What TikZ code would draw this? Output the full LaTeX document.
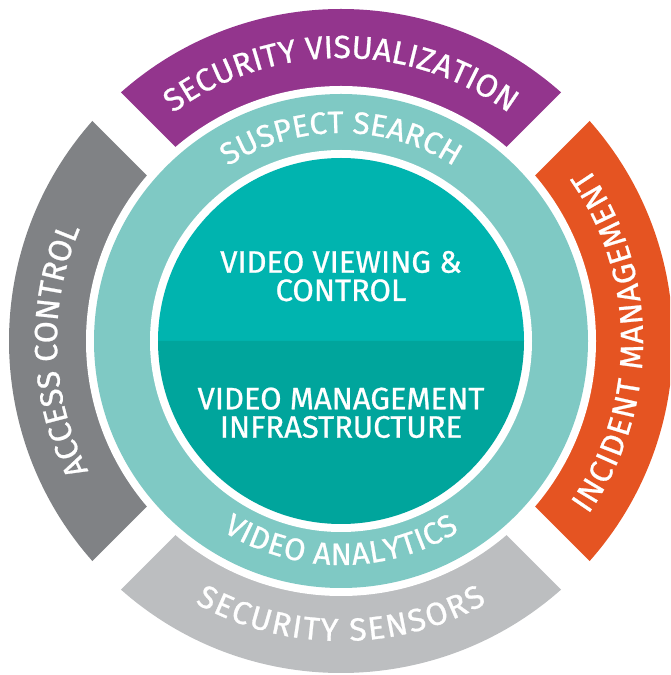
\documentclass[tikz,border=0pt]{standalone}
\usepackage{fontspec}
\setmainfont{Fira Sans}[FakeBold=0.8]
\newfontfamily\fsA{Fira Sans}[FakeBold=0.8]
\usetikzlibrary{decorations.text}
\definecolor{cpurple}{HTML}{93358D}
\definecolor{cgrayd}{HTML}{808285}
\definecolor{cgrayl}{HTML}{BCBEC0}
\definecolor{corange}{HTML}{E55422}
\definecolor{cring}{HTML}{7FC9C4}
\definecolor{ctop}{HTML}{00B4AF}
\definecolor{cbot}{HTML}{00A59C}
\tikzset{
  arctext/.style n args={3}{decorate, decoration={text effects along path,
     text={#3}, text align=center, text effects/.cd, text along path,
     characters={text=white, font=\fsA\fontsize{#1}{#1}\selectfont},
     character widths={inner xsep=#2, font=\fsA\fontsize{#1}{#1}\selectfont}}},
  innertext/.style={text=white, inner sep=0pt, anchor=base,
     font=\fsA\fontsize{31}{31}\selectfont}
}
\begin{document}
\begin{tikzpicture}[x=1pt,y=1pt]
\useasboundingbox (0,0) rectangle (670,675);
\clip (0,0) rectangle (670,675);
\begin{scope}[shift={(341,334)}]
\coordinate (C) at (0,0);
% outer bands
\fill[cpurple] (C) -- (45:332) arc[start angle=45,end angle=135,radius=332] -- cycle;
\fill[cgrayd] (C) -- (135:332) arc[start angle=135,end angle=225,radius=332] -- cycle;
\fill[cgrayl] (C) -- (225:332) arc[start angle=225,end angle=315,radius=332] -- cycle;
\fill[corange] (C) -- (-45:332) arc[start angle=-45,end angle=45,radius=332] -- cycle;
% gaps
\draw[white, line width=40] (45:345) -- (225:345);
\draw[white, line width=40] (135:345) -- (315:345);
\fill[white] (C) circle[radius=255];
\fill[cring] (C) circle[radius=247];
\fill[white] (C) circle[radius=191];
\fill[ctop] (0:183) arc[start angle=0,end angle=180,radius=183] -- cycle;
\fill[cbot] (180:183) arc[start angle=180,end angle=360,radius=183] -- cycle;
% arc texts
\path[arctext={32}{0pt}{SECURITY VISUALIZATION}] (180:283) arc[start angle=180,end angle=0,radius=283];
\path[arctext={31}{0pt}{SUSPECT SEARCH}] (180:208) arc[start angle=180,end angle=0,radius=208];
\path[arctext={32}{0pt}{ACCESS CONTROL}] (272:284) arc[start angle=272,end angle=92,radius=284];
\path[arctext={32}{0.7pt}{INCIDENT MANAGEMENT}] (-90:302) arc[start angle=-90,end angle=90,radius=302];
\path[arctext={32}{0.9pt}{SECURITY SENSORS}] (180:300) arc[start angle=180,end angle=360,radius=300];
\path[arctext={31}{0.3pt}{VIDEO ANALYTICS}] (180:224) arc[start angle=180,end angle=360,radius=224];
% inner texts
\node[innertext] (l1) at (0,68.3) {VIDEO VIEWING \&};
\node[innertext] (l2) at (0,40) {CONTROL};
\node[innertext] (l3) at (0,-68.3) {VIDEO MANAGEMENT};
\node[innertext] (l4) at (0,-96.7) {INFRASTRUCTURE};
\end{scope}
\end{tikzpicture}
\end{document}
